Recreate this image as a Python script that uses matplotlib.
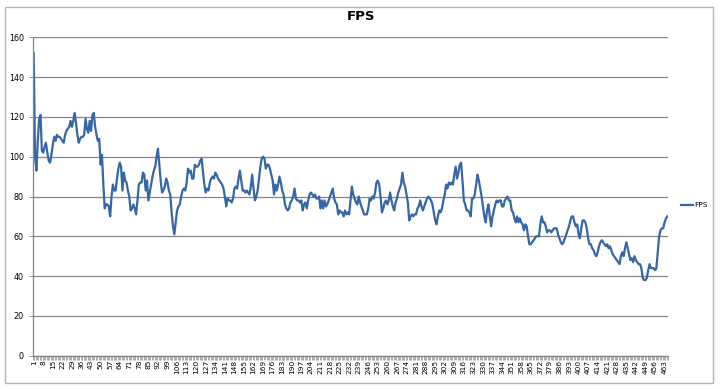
import numpy as np
import matplotlib.pyplot as plt
from matplotlib.patches import Rectangle

# FPS per sample (465 samples)
fps = [
    152, 100, 93, 108, 119, 121, 103, 102, 105, 107,
    102, 98, 97, 101, 106, 110, 108, 111, 110, 110,
    109, 108, 107, 111, 113, 114, 115, 118, 115, 118,
    122, 117, 111, 107, 109, 110, 110, 111, 119, 114,
    112, 118, 113, 121, 122, 115, 111, 108, 109, 96,
    101, 86, 74, 76, 76, 75, 70, 80, 86, 83,
    83, 89, 94, 97, 95, 83, 92, 88, 87, 83,
    80, 73, 74, 76, 74, 71, 78, 86, 87, 87,
    92, 91, 83, 88, 78, 82, 86, 90, 93, 95,
    100, 104, 96, 88, 82, 83, 85, 89, 87, 83,
    81, 72, 65, 61, 67, 73, 75, 76, 80, 83,
    84, 83, 87, 94, 92, 93, 89, 89, 96, 95,
    95, 96, 98, 99, 92, 86, 82, 84, 83, 87,
    89, 90, 89, 92, 91, 89, 88, 87, 86, 84,
    80, 75, 79, 78, 78, 77, 79, 84, 85, 84,
    89, 93, 88, 83, 83, 82, 83, 82, 81, 85,
    91, 84, 78, 80, 83, 89, 95, 99, 100, 99,
    94, 96, 96, 94, 91, 88, 81, 86, 83, 86,
    90, 87, 83, 81, 76, 74, 73, 74, 77, 78,
    80, 84, 79, 78, 78, 77, 78, 73, 76, 77,
    74, 78, 81, 82, 81, 80, 81, 79, 79, 80,
    74, 78, 74, 78, 75, 76, 78, 80, 82, 84,
    79, 77, 76, 71, 73, 72, 72, 70, 73, 71,
    72, 71, 78, 85, 81, 79, 77, 76, 80, 77,
    75, 73, 71, 71, 71, 74, 79, 78, 80, 79,
    82, 87, 88, 86, 80, 72, 74, 77, 78, 76,
    78, 82, 78, 75, 73, 77, 79, 82, 84, 86,
    92, 87, 85, 81, 77, 68, 70, 71, 70, 71,
    71, 74, 75, 78, 75, 73, 75, 77, 79, 80,
    79, 78, 76, 72, 68, 66, 70, 73, 72, 74,
    78, 81, 86, 84, 87, 86, 87, 86, 91, 95,
    89, 92, 96, 97, 88, 78, 76, 73, 73, 72,
    70, 79, 79, 81, 86, 91, 88, 84, 80, 75,
    70, 67, 73, 76, 70, 65, 70, 73, 76, 78,
    77, 78, 78, 75, 75, 78, 79, 80, 78, 78,
    73, 72, 69, 67, 70, 67, 69, 67, 66, 63,
    66, 65, 60, 56, 56, 57, 58, 59, 60, 60,
    60, 66, 70, 67, 67, 65, 62, 63, 63, 62,
    63, 64, 64, 64, 61, 59, 57, 56, 57, 59,
    61, 63, 65, 68, 70, 70, 67, 65, 66, 61,
    59, 64, 68, 68, 67, 64, 59, 56, 56, 54,
    53, 51, 50, 52, 55, 57, 58, 57, 56, 55,
    56, 54, 55, 53, 51, 50, 49, 48, 47, 46,
    50, 52, 50, 54, 57, 54, 51, 48, 49, 47,
    50, 48, 47, 46, 46, 44, 39, 38, 38, 39,
    43, 46, 44, 44, 44, 43, 44, 52, 60, 63,
    64, 64, 67, 69, 70,
]
samples = np.arange(1, len(fps) + 1)
label_step = 7
y_ticks = [0, 20, 40, 60, 80, 100, 120, 140, 160]

fig = plt.figure(figsize=(7.2, 3.89), dpi=100)
fig.patch.set_facecolor('white')

# chart area border (Excel-like frame)
fig.add_artist(Rectangle((5 / 720, 6 / 389), 708 / 720, 376 / 389,
                         transform=fig.transFigure, fill=False,
                         edgecolor='#a9b4c4', lw=1.0))

ax = fig.add_axes([33 / 720, 1 - 355.7 / 389, 635 / 720, 318.4 / 389])
ax.plot(samples, fps, color='#3566a6', lw=1.6, label='FPS', solid_joinstyle='round')

ax.set_xlim(0.5, len(fps) + 0.5)
ax.set_ylim(0, 160)
ax.set_yticks(y_ticks)
ax.yaxis.grid(True, color='#868686', lw=0.9)
ax.set_axisbelow(True)

# category labels every 7th sample, tick mark between every category
ax.set_xticks(samples[::label_step])
ax.set_xticklabels([str(s) for s in samples[::label_step]], rotation=90, fontsize=5.3)
ax.set_xticks(np.arange(0.5, len(fps) + 1, 1), minor=True)
ax.tick_params(axis='x', which='major', length=0, pad=3)
ax.tick_params(axis='x', which='minor', length=3, width=0.5, color='#8c8c8c')
ax.tick_params(axis='y', labelsize=5.8, length=3, width=0.6, color='#868686')

for side in ['top', 'right']:
    ax.spines[side].set_visible(False)
for side in ['left', 'bottom']:
    ax.spines[side].set_color('#868686')
    ax.spines[side].set_linewidth(0.9)

fig.text(361 / 720, 1 - 17 / 389, 'FPS', ha='center', va='center',
         fontsize=9.5, fontweight='bold')

fig.legend(loc='center left', bbox_to_anchor=(678 / 720, 1 - 205 / 389),
           frameon=False, fontsize=5.3, handlelength=1.6, handletextpad=0.2,
           borderaxespad=0)

fig.savefig('out.png', dpi=100)
